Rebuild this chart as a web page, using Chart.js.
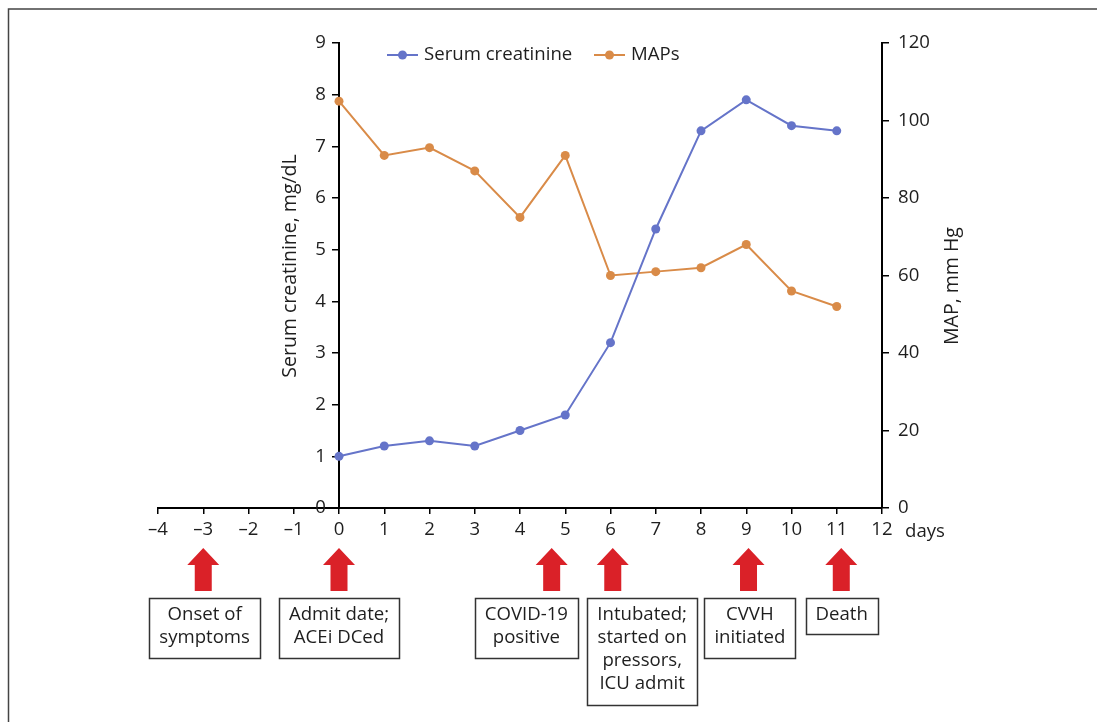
<!DOCTYPE html>
<html><head><meta charset="utf-8">
<script src="https://cdn.jsdelivr.net/npm/chart.js@4.4.1/dist/chart.umd.min.js"></script>
<style>html,body{margin:0;padding:0;background:#fff;}#wrap{width:1097px;height:722px;position:relative;}</style>
</head><body><div id="wrap"><canvas id="c" width="1097" height="722"></canvas></div>
<script>
// ---- data ----
const days = [0, 1, 2, 3, 4, 5, 6, 7, 8, 9, 10, 11];
const creatinine = [1.0, 1.2, 1.3, 1.2, 1.5, 1.8, 3.2, 5.4, 7.3, 7.9, 7.4, 7.3];
const maps = [105, 91, 93, 87, 75, 91, 60, 61, 62, 68, 56, 52];
const xTickValues = [-4, -3, -2, -1, 0, 1, 2, 3, 4, 5, 6, 7, 8, 9, 10, 11, 12];
const eventDays = [-3, 0, 4.7, 6.05, 9.05, 11.1];
const eventLabels = [
  ["Onset of", "symptoms"],
  ["Admit date;", "ACEi DCed"],
  ["COVID-19", "positive"],
  ["Intubated;", "started on", "pressors,", "ICU admit"],
  ["CVVH", "initiated"],
  ["Death"]
];
const labelCenterDays = [-2.97, 0, 4.14, 6.70, 9.08, 11.11];
const seriesNames = ["Serum creatinine", "MAPs"];
const leftTitle = "Serum creatinine, mg/dL";
const rightTitle = "MAP, mm Hg";
const xUnit = "days";

// ---- style ----
const FONT = '"Open Sans", "Noto Sans", sans-serif';
const FS = 18.6;
const TXT = '#1e1e1e';
const BLUE = '#6574C9';
const ORANGE = '#D98B48';
const RED = '#DA2128';

const fmtMinus = v => (v < 0 ? '\u2013' + Math.abs(v) : String(v));

const decor = {
  id: 'decor',
  afterDraw(chart) {
    const ctx = chart.ctx;
    const xs = chart.scales.x;
    const ys = chart.scales.y;
    ctx.save();
    // frame
    ctx.strokeStyle = '#444';
    ctx.lineWidth = 1.5;
    ctx.beginPath();
    ctx.moveTo(8.5, 722); ctx.lineTo(8.5, 9); ctx.lineTo(1097, 9);
    ctx.stroke();

    ctx.fillStyle = TXT;
    ctx.font = FS + 'px ' + FONT;
    // left axis tick labels (axis sits at x = 0 inside the plot)
    const axX = xs.getPixelForValue(0);
    ctx.textAlign = 'right'; ctx.textBaseline = 'middle';
    ys.ticks.forEach(t => {
      ctx.fillText(String(t.value), axX - 13, ys.getPixelForValue(t.value));
    });
    // axis titles
    ctx.font = '19.5px ' + FONT;
    ctx.textAlign = 'center'; ctx.textBaseline = 'middle';
    ctx.save(); ctx.translate(290, 266); ctx.rotate(-Math.PI / 2); ctx.fillText(leftTitle, 0, 0); ctx.restore();
    ctx.save(); ctx.translate(952, 286); ctx.rotate(-Math.PI / 2); ctx.fillText(rightTitle, 0, 0); ctx.restore();
    ctx.font = FS + 'px ' + FONT;
    // days
    ctx.textAlign = 'left';
    ctx.fillText(xUnit, 905, 532);

    // legend
    const legend = [[BLUE, seriesNames[0], 387], [ORANGE, seriesNames[1], 594]];
    legend.forEach(([col, name, lx]) => {
      ctx.strokeStyle = col; ctx.lineWidth = 2;
      ctx.beginPath(); ctx.moveTo(lx, 55); ctx.lineTo(lx + 31, 55); ctx.stroke();
      ctx.fillStyle = col;
      ctx.beginPath(); ctx.arc(lx + 15.5, 55, 4.5, 0, Math.PI * 2); ctx.fill();
      ctx.fillStyle = TXT; ctx.textAlign = 'left'; ctx.textBaseline = 'middle';
      ctx.fillText(name, lx + 37, 55);
    });

    // arrows
    ctx.fillStyle = RED;
    eventDays.forEach(d => {
      const cx = xs.getPixelForValue(d);
      ctx.beginPath();
      ctx.moveTo(cx, 548);
      ctx.lineTo(cx + 16, 565);
      ctx.lineTo(cx + 8.5, 565);
      ctx.lineTo(cx + 8.5, 591);
      ctx.lineTo(cx - 8.5, 591);
      ctx.lineTo(cx - 8.5, 565);
      ctx.lineTo(cx - 16, 565);
      ctx.closePath();
      ctx.fill();
    });

    // boxes
    ctx.textAlign = 'center'; ctx.textBaseline = 'middle';
    eventLabels.forEach((lines, i) => {
      const cx = xs.getPixelForValue(labelCenterDays[i]);
      let w = 0;
      lines.forEach(l => { w = Math.max(w, ctx.measureText(l).width); });
      w += 20;
      const h = 12.5 + 23.5 * lines.length;
      const top = 598;
      ctx.strokeStyle = '#333'; ctx.lineWidth = 1.5;
      ctx.strokeRect(Math.round(cx - w / 2) + 0.5, top + 0.5, Math.round(w), Math.round(h));
      ctx.fillStyle = TXT;
      lines.forEach((l, j) => ctx.fillText(l, cx, top + 17 + 23 * j));
    });
    ctx.restore();
  }
};

new Chart(document.getElementById('c'), {
  type: 'line',
  data: {
    datasets: [
      {
        label: seriesNames[0],
        data: days.map((d, i) => ({ x: d, y: creatinine[i] })),
        yAxisID: 'y',
        borderColor: BLUE, backgroundColor: BLUE,
        borderWidth: 2, pointRadius: 4.5, pointBorderWidth: 0,
        tension: 0
      },
      {
        label: seriesNames[1],
        data: days.map((d, i) => ({ x: d, y: maps[i] })),
        yAxisID: 'y1',
        borderColor: ORANGE, backgroundColor: ORANGE,
        borderWidth: 2, pointRadius: 4.5, pointBorderWidth: 0,
        tension: 0
      }
    ]
  },
  options: {
    responsive: false,
    animation: false,
    layout: { padding: { left: 158, top: 43, right: 0, bottom: 0 } },
    plugins: { legend: { display: false }, tooltip: { enabled: false } },
    scales: {
      x: {
        type: 'linear', position: 'bottom',
        min: -4, max: 12,
        afterBuildTicks: s => { s.ticks = xTickValues.map(v => ({ value: v })); },
        afterFit: s => { s.height = 214; },
        ticks: { color: TXT, font: { family: FONT, size: FS }, padding: 5, maxRotation: 0, autoSkip: false, callback: v => fmtMinus(v) },
        grid: { drawOnChartArea: false, drawTicks: true, tickLength: 6, color: '#000', lineWidth: 1.5 },
        border: { display: true, color: '#000', width: 2 }
      },
      y: {
        type: 'linear', position: { x: 0 },
        min: 0, max: 9,
        ticks: { stepSize: 1, color: 'rgba(0,0,0,0)', font: { family: FONT, size: FS }, padding: 8 },
        grid: { drawOnChartArea: false, drawTicks: true, tickLength: 6, color: '#000', lineWidth: 1.5 },
        border: { display: true, color: '#000', width: 2 }
      },
      y1: {
        type: 'linear', position: 'right',
        min: 0, max: 120,
        afterFit: s => { s.width = 215; },
        ticks: { stepSize: 20, color: TXT, font: { family: FONT, size: FS }, padding: 9 },
        grid: { drawOnChartArea: false, drawTicks: true, tickLength: 7, color: '#000', lineWidth: 1.5 },
        border: { display: true, color: '#000', width: 2 }
      }
    }
  },
  plugins: [decor]
});
</script></body></html>
